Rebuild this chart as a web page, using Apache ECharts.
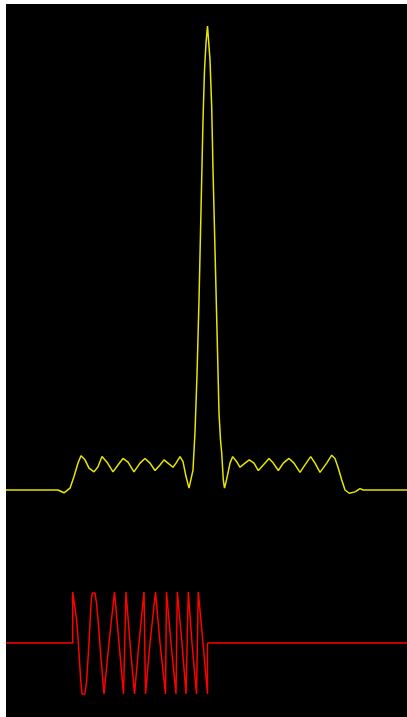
<!DOCTYPE html>
<html><head><meta charset="utf-8">
<script src="https://cdn.jsdelivr.net/npm/echarts@6/dist/echarts.min.js"></script>
<style>html,body{margin:0;padding:0;background:#fff;width:407px;height:717px;overflow:hidden}
#c{position:absolute;left:6px;top:4px;width:401px;height:713px}</style>
</head><body><div id="c"></div>
<script>
// Matched-filter output (yellow), normalised amplitude, sample time
const outT = [6,53,55,58,64,70,74,78,81,85,89,94,98,102,107,113,118,123,128,134,140,145,150,155,160,164,168,173,176,180,183,186,189,191,193,195,197,199,201,203,204.5,206,207.5,208.5,210,211.7,213,215,217,219,220.5,221.7,223.3,224.5,226,228,230,232.7,236.7,240,245,249.3,254,258.3,263.3,269,273.3,278.3,283.3,289,294,300,305,310.7,315,320,326.7,331.7,335,338.3,341.7,345,349.3,355,360,363.3,407];
const outV = [0,0,0.003,0,-0.006,0.004,0.029,0.058,0.074,0.065,0.047,0.039,0.050,0.072,0.060,0.039,0.054,0.068,0.060,0.039,0.058,0.068,0.058,0.042,0.054,0.065,0.058,0.049,0.058,0.072,0.061,0.029,0.004,0.006,0.043,0.125,0.248,0.409,0.603,0.797,0.905,0.963,1.0,0.996,0.927,0.825,0.690,0.517,0.345,0.166,0.108,0.080,0.022,0.004,0.017,0.037,0.058,0.072,0.061,0.049,0.058,0.065,0.058,0.042,0.054,0.068,0.058,0.042,0.058,0.068,0.058,0.038,0.054,0.072,0.058,0.038,0.058,0.075,0.068,0.047,0.022,0,-0.007,-0.004,0.003,0,0];
// Transmitted chirp (red)
const chirpT = [6,72.7,72.7,74,76.7,78.3,80.7,82,85,86.7,89,91,92.3,95,96.7,98.3,101,104,109,114.5,119,123.5,126,130,134.5,139,144,145.5,150,155.5,160,165.5,166.5,171,176,177.3,182,186,188.3,192,196.5,198.3,203,207.5,207.5,407];
const chirpV = [0,0,1,0.82,0.45,0.02,-0.73,-1,-1,-0.73,0,0.78,0.98,0.98,0.75,0.39,-0.3,-1,0,1,0,-1,1,0,-1,0,1,-1,0,1,0,-1,1,0,-1,1,0,-1,1,0,-1,1,0,-1,0,0];

const zip = (a,b)=>a.map((x,i)=>[x,b[i]]);
const chart = echarts.init(document.getElementById('c'));
chart.setOption({
  backgroundColor:'#000',
  animation:false,
  grid:[{left:0,width:401,top:22,height:464},{left:0,width:401,top:588,height:102}],
  xAxis:[{type:'value',gridIndex:0,min:6,max:407,show:false},{type:'value',gridIndex:1,min:6,max:407,show:false}],
  yAxis:[{type:'value',gridIndex:0,min:0,max:1,show:false},{type:'value',gridIndex:1,min:-1,max:1,show:false}],
  series:[
    {type:'line',xAxisIndex:0,yAxisIndex:0,data:zip(outT,outV),showSymbol:false,clip:false,lineStyle:{color:'#e6e600',width:1.5}},
    {type:'line',xAxisIndex:1,yAxisIndex:1,data:zip(chirpT,chirpV),showSymbol:false,clip:false,lineStyle:{color:'#ff0000',width:1.5}}
  ]
});
</script></body></html>
